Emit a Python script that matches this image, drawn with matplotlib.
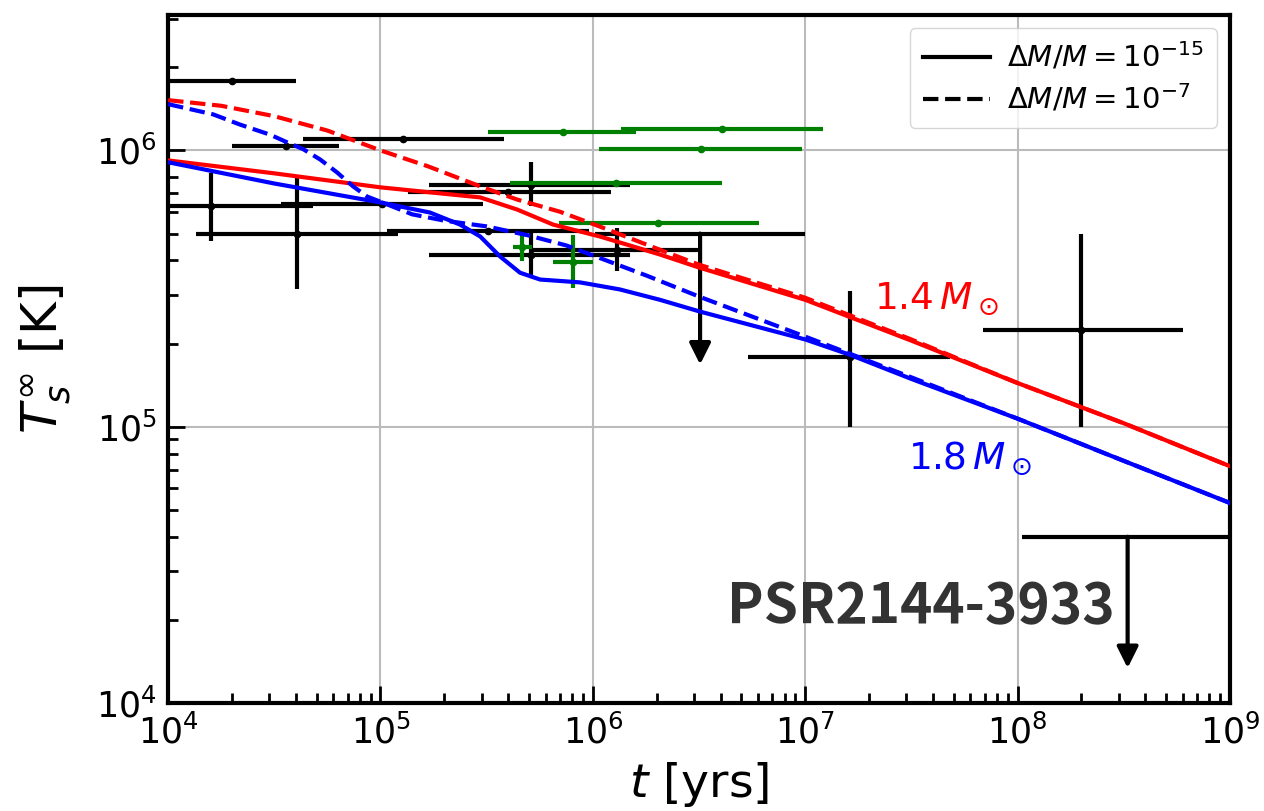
import numpy as np
import matplotlib
matplotlib.use("Agg")
import matplotlib.pyplot as plt

# Curvas de enfriamiento (t en años, T en K)
t_red_solid = [1e4, 3.16e4, 1e5, 2.95e5, 4.4e5, 6.5e5, 1.08e6, 2.07e6, 3.16e6,
               1e7, 3.16e7, 1e8, 3.16e8, 1e9]
T_red_solid = [9.2e5, 8.26e5, 7.35e5, 6.76e5, 6.11e5, 5.39e5, 4.88e5, 4.2e5, 3.77e5,
               2.88e5, 2.05e5, 1.44e5, 1.03e5, 7.2e4]

t_red_dash = [1e4, 1.78e4, 3.16e4, 5.62e4, 1e5, 1.68e5, 2.95e5, 4.4e5, 7.0e5,
              1.08e6, 2.07e6, 3.16e6, 1e7, 3.16e7, 1e8, 3.16e8, 1e9]
T_red_dash = [1.52e6, 1.45e6, 1.33e6, 1.18e6, 1.0e6, 8.75e5, 7.41e5, 6.64e5, 6.0e5,
              5.3e5, 4.37e5, 3.86e5, 2.93e5, 2.07e5, 1.44e5, 1.03e5, 7.2e4]

t_blue_solid = [1e4, 3.16e4, 1e5, 1.71e5, 2.37e5, 2.95e5, 3.66e5, 4.54e5, 5.64e5,
                8.7e5, 1.34e6, 2.07e6, 3.2e6, 1e7, 1.63e7, 3.16e7, 1e8, 3.16e8, 1e9]
T_blue_solid = [9.06e5, 7.59e5, 6.48e5, 5.96e5, 5.39e5, 4.88e5, 4.13e5, 3.61e5, 3.41e5,
                3.33e5, 3.14e5, 2.88e5, 2.61e5, 2.07e5, 1.82e5, 1.49e5, 1.07e5, 7.53e4, 5.3e4]

t_blue_dash = [1e4, 1.63e4, 2.18e4, 3.02e4, 3.63e4, 4.33e4, 5.2e4, 6.25e4, 7.43e4,
               8.65e4, 1.02e5, 1.41e5, 2.0e5, 3.16e5, 5.0e5, 7.5e5, 1e6, 1.78e6,
               3.16e6, 1e7, 3.16e7, 1e8, 3.16e8, 1e9]
T_blue_dash = [1.47e6, 1.35e6, 1.24e6, 1.14e6, 1.07e6, 1.01e6, 9.27e5, 8.32e5, 7.41e5,
               6.81e5, 6.48e5, 5.87e5, 5.57e5, 5.31e5, 4.92e5, 4.53e5, 4.17e5, 3.53e5,
               2.96e5, 2.12e5, 1.51e5, 1.07e5, 7.53e4, 5.3e4]

# Observaciones (negro): t, T, t_min, t_max, T_min, T_max
obs_t = [2.0e4, 3.6e4, 1.28e5, 1.6e4, 4.05e4, 1.02e5, 3.2e5, 4.0e5, 5.1e5, 5.1e5,
         1.3e6, 1.63e7, 2.0e8]
obs_T = [1.78e6, 1.04e6, 1.1e6, 6.3e5, 5.0e5, 6.4e5, 5.1e5, 7.05e5, 7.5e5, 4.17e5,
         4.37e5, 1.79e5, 2.24e5]
obs_tmin = [1.0e4, 2.0e4, 4.3e4, 5.3e3, 1.36e4, 3.4e4, 1.07e5, 1.35e5, 1.7e5, 1.7e5,
            5.1e5, 5.4e6, 6.9e7]
obs_tmax = [4.0e4, 6.4e4, 3.8e5, 4.8e4, 1.21e5, 3.04e5, 9.6e5, 1.22e6, 1.5e6, 1.5e6,
            3.2e6, 4.8e7, 6.0e8]
obs_Tmin = [1.78e6, 1.04e6, 1.1e6, 4.7e5, 3.16e5, 6.4e5, 5.1e5, 7.05e5, 6.27e5, 3.49e5,
            3.65e5, 1.0e5, 1.0e5]
obs_Tmax = [1.78e6, 1.04e6, 1.1e6, 8.3e5, 7.98e5, 6.4e5, 5.1e5, 7.05e5, 9.06e5, 5.05e5,
            5.26e5, 3.1e5, 5.0e5]

# Observaciones (verde)
grn_t = [7.2e5, 4.06e6, 3.24e6, 1.29e6, 2.03e6, 4.64e5, 8.07e5]
grn_T = [1.17e6, 1.2e6, 1.01e6, 7.6e5, 5.48e5, 4.49e5, 3.96e5]
grn_tmin = [3.2e5, 1.36e6, 1.07e6, 4.07e5, 6.9e5, 4.2e5, 6.5e5]
grn_tmax = [1.6e6, 1.21e7, 9.7e6, 4.06e6, 6.05e6, 5.18e5, 1.0e6]
grn_Tmin = [1.17e6, 1.2e6, 1.01e6, 7.6e5, 5.48e5, 3.99e5, 3.19e5]
grn_Tmax = [1.17e6, 1.2e6, 1.01e6, 7.6e5, 5.48e5, 4.96e5, 4.96e5]

# Límites superiores: t, T, t_min, t_max, punta de la flecha
lim_t = [3.2e6, 3.3e8]
lim_T = [5.0e5, 4.0e4]
lim_tmin = [1.02e6, 1.05e8]
lim_tmax = [1.0e7, 1.0e9]
lim_tip = [1.68e5, 1.34e4]


def errs(v, vmin, vmax):
    v, vmin, vmax = map(np.asarray, (v, vmin, vmax))
    return [v - vmin, vmax - v]


fig = plt.figure(figsize=(12.64, 8.11), dpi=100)
ax = fig.add_axes([0.133, 0.133, 0.840, 0.849])
ax.set_xscale('log')
ax.set_yscale('log')

ax.errorbar(obs_t, obs_T, xerr=errs(obs_t, obs_tmin, obs_tmax),
            yerr=errs(obs_T, obs_Tmin, obs_Tmax), fmt='o', color='k',
            ms=4.5, elinewidth=3, capsize=0, zorder=3)
ax.errorbar(grn_t, grn_T, xerr=errs(grn_t, grn_tmin, grn_tmax),
            yerr=errs(grn_T, grn_Tmin, grn_Tmax), fmt='o', color='green',
            ms=4.5, elinewidth=3, capsize=0, zorder=4)
ax.errorbar(lim_t, lim_T, xerr=errs(lim_t, lim_tmin, lim_tmax), fmt='none',
            ecolor='k', elinewidth=3, capsize=0, zorder=3)
for t, T, tip in zip(lim_t, lim_T, lim_tip):
    ax.annotate('', xy=(t, tip), xytext=(t, T),
                arrowprops=dict(arrowstyle='-|>', color='k', lw=3,
                                mutation_scale=32, shrinkA=0, shrinkB=0),
                zorder=3)

ax.plot(t_red_solid, T_red_solid, color='red', lw=3, zorder=5)
ax.plot(t_red_dash, T_red_dash, color='red', lw=3, ls='--', zorder=5)
ax.plot(t_blue_solid, T_blue_solid, color='blue', lw=3, zorder=5)
ax.plot(t_blue_dash, T_blue_dash, color='blue', lw=3, ls='--', zorder=5)

ax.plot([], [], color='k', lw=3, label=r'$\Delta M/M=10^{-15}$')
ax.plot([], [], color='k', lw=3, ls='--', label=r'$\Delta M/M=10^{-7}$')
ax.legend(loc='upper right', fontsize=21, handlelength=2.3, handletextpad=0.6,
          borderpad=0.45, labelspacing=0.35, borderaxespad=0.45)

ax.text(2.1e7, 2.9e5, r'1.4$\,M_\odot$', color='red', fontsize=27,
        ha='left', va='center')
ax.text(3.05e7, 7.7e4, r'1.8$\,M_\odot$', color='blue', fontsize=27,
        ha='left', va='center')
ax.text(4.3e6, 2.24e4, 'PSR2144-3933', color='#333333', fontsize=39.5,
        fontweight='bold', family=['Noto Sans CJK JP', 'DejaVu Sans'],
        ha='left', va='center')

ax.set_xlim(1e4, 1e9)
ax.set_ylim(1e4, 3.1e6)
ax.grid(True, which='major', color='#bbbbbb', lw=1.5)
ax.set_axisbelow(True)
ax.set_xlabel(r'$t$ [yrs]', fontsize=34, labelpad=7)
ax.set_ylabel(r'$T_s^\infty$ [K]', fontsize=36)
ax.yaxis.set_label_coords(-0.090, 0.5)
ax.tick_params(which='both', direction='in', labelsize=25, width=2,
               top=False, right=False)
ax.tick_params(which='major', length=12, pad=8)
ax.tick_params(which='minor', length=7)
for s in ax.spines.values():
    s.set_linewidth(3)

fig.savefig('out.png', dpi=100)
